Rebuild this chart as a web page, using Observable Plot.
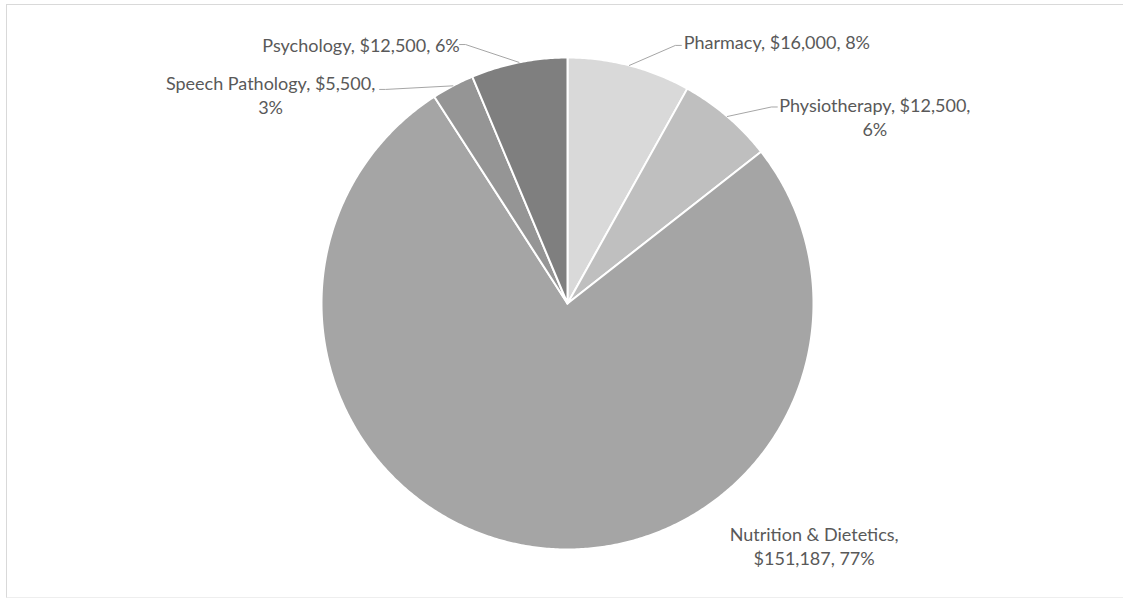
<!DOCTYPE html>
<html>
<head>
<meta charset="utf-8">
<script src="https://cdn.jsdelivr.net/npm/d3@7"></script>
<script src="https://cdn.jsdelivr.net/npm/@observablehq/plot@0.6"></script>
<style>
  html, body { margin: 0; padding: 0; background: #fff; overflow: hidden; }
  #wrap { position: relative; width: 1123px; height: 603px; overflow: hidden; }
  #border { position: absolute; left: 6px; top: 4px; width: 1140px; height: 594px;
            border: 1px solid #d9d9d9; border-bottom-color: #eeeeee; box-sizing: border-box; pointer-events: none; }
  #chart { position: absolute; left: 0; top: 0; }
</style>
</head>
<body>
<div id="wrap"><div id="border"></div><div id="chart"></div></div>
<script>
// ---- data ----
const categories = ["Pharmacy", "Physiotherapy", "Nutrition & Dietetics", "Speech Pathology", "Psychology"];
const values = [16000, 12500, 151187, 5500, 12500];
const percentLabels = ["8%", "6%", "77%", "3%", "6%"];
const sliceColors = ["#d9d9d9", "#bfbfbf", "#a5a5a5", "#959595", "#7f7f7f"];

// ---- layout (label placement relative to slice edge, in px) ----
const labelDx = [147.5, 147.5, 287.5, -182.3, -157.9];
const labelDy = [-24, -0.5, -0.6, 8.6, -17.8];
const labelWrap = ["none", "value", "name", "value", "none"];
const leaderDx = [-95.5, -97.5, null, 109, 98.5];
const leaderDy = [4, -9, null, -5, 0];

const R = 246;
const fmt = d3.format("$,");
const total = d3.sum(values);

// angles clockwise from 12 o'clock
let acc = 0;
const slices = categories.map((name, i) => {
  const a0 = acc / total * 2 * Math.PI;
  acc += values[i];
  const a1 = acc / total * 2 * Math.PI;
  return {name, i, a0, a1, mid: (a0 + a1) / 2, color: sliceColors[i]};
});

// slice outlines
const slicePts = [];
for (const s of slices) {
  slicePts.push({name: s.name, color: s.color, x: 0, y: 0});
  const n = Math.max(2, Math.ceil((s.a1 - s.a0) / (Math.PI / 360)));
  for (let k = 0; k <= n; k++) {
    const a = s.a0 + (s.a1 - s.a0) * k / n;
    slicePts.push({name: s.name, color: s.color, x: R * Math.sin(a), y: R * Math.cos(a)});
  }
  slicePts.push({name: s.name, color: s.color, x: 0, y: 0});
}

// labels
const labels = slices.map(s => {
  const ex = R * Math.sin(s.mid), ey = R * Math.cos(s.mid);
  const v = fmt(values[s.i]), p = percentLabels[s.i];
  let text;
  if (labelWrap[s.i] === "value") text = `${s.name}, ${v},\n${p}`;
  else if (labelWrap[s.i] === "name") text = `${s.name},\n${v}, ${p}`;
  else text = `${s.name}, ${v}, ${p}`;
  return {name: s.name, i: s.i, ex, ey, x: ex + labelDx[s.i], y: ey - labelDy[s.i], text};
});

// leader lines
const leaderPts = [];
for (const l of labels) {
  if (leaderDx[l.i] == null) continue;
  const ax = l.x + leaderDx[l.i], ay = l.y - leaderDy[l.i];
  const side = leaderDx[l.i] < 0 ? -1 : 1;
  leaderPts.push({name: l.name, x: l.ex, y: l.ey});
  leaderPts.push({name: l.name, x: ax + side * 6, y: ay});
  leaderPts.push({name: l.name, x: ax, y: ay});
}

const chart = Plot.plot({
  width: 1123,
  height: 603,
  margin: 0,
  x: {domain: [-567, 556], range: [0, 1123], axis: null},
  y: {domain: [-300, 303], range: [603, 0], axis: null},
  color: {type: "identity"},
  style: {fontFamily: "Lato, 'Open Sans', sans-serif", background: "transparent"},
  marks: [
    Plot.line(slicePts, {x: "x", y: "y", z: "name", fill: "color", stroke: "#ffffff", strokeWidth: 2, strokeLinejoin: "round"}),
    Plot.line(leaderPts, {x: "x", y: "y", z: "name", stroke: "#a6a6a6", strokeWidth: 1}),
    Plot.text(labels, {x: "x", y: "y", text: "text", fill: "#595959", fontSize: 18, lineHeight: 1.35, textAnchor: "middle", lineAnchor: "middle"})
  ]
});
document.getElementById("chart").appendChild(chart);
</script>
</body>
</html>
